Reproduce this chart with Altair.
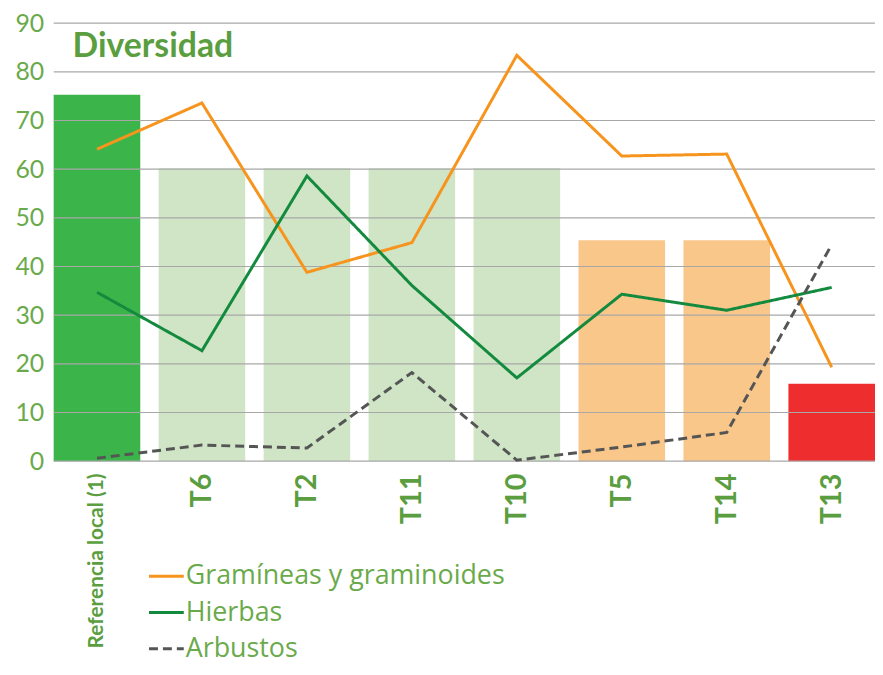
import altair as alt
import pandas as pd

categories = ["Referencia local (1)", "T6", "T2", "T11", "T10", "T5", "T14", "T13"]
bar_values = [75.3, 60.2, 60.2, 60.2, 60.2, 45.4, 45.4, 15.9]
bar_colors = ["#3bb54a", "#cfe5c6", "#cfe5c6", "#cfe5c6", "#cfe5c6", "#f9c78a", "#f9c78a", "#ee2e2e"]

series_names = ["Gramíneas y graminoides", "Hierbas", "Arbustos"]
graminoides = [64.1, 73.6, 38.8, 44.9, 83.4, 62.7, 63.1, 19.3]
hierbas = [34.7, 22.7, 58.6, 36.1, 17.1, 34.3, 31.0, 35.7]
arbustos = [0.6, 3.3, 2.7, 18.2, 0.2, 2.9, 5.9, 44.5]
series_colors = ["#f7941d", "#138a3e", "#555555"]
series_dash = [[1, 0], [1, 0], [9, 5]]

y_ticks = [0, 10, 20, 30, 40, 50, 60, 70, 80, 90]

label_green = "#6aaa4b"
dark_label = "#5a9e40"

bars_df = pd.DataFrame({"cat": categories, "value": bar_values})
lines_df = pd.DataFrame(
    [{"cat": c, "serie": s, "value": v}
     for s, vals in zip(series_names, [graminoides, hierbas, arbustos])
     for c, v in zip(categories, vals)]
)
grid_df = pd.DataFrame({"v": y_ticks})

x_enc = alt.X(
    "cat:N",
    sort=categories,
    scale=alt.Scale(paddingInner=0.175, paddingOuter=0),
    axis=alt.Axis(
        title=None,
        labelAngle=-90,
        labelAlign="right",
        labelBaseline="middle",
        labelColor=dark_label,
        labelFont="Lato",
        labelFontWeight="bold",
        labelFontSize={"condition": {"test": "datum.value == 'Referencia local (1)'", "value": 21}, "value": 29},
        labelLimit=300,
        labelPadding=12,
        ticks=False,
        domain=False,
        grid=False,
    ),
)
y_scale = alt.Scale(domain=[0, 90], nice=False)

bars = alt.Chart(bars_df).mark_bar().encode(
    x=x_enc,
    y=alt.Y(
        "value:Q",
        scale=y_scale,
        axis=alt.Axis(
            title=None,
            values=y_ticks,
            labelColor=label_green,
            labelFont="Lato",
            labelFontSize=25,
            labelPadding=10,
            ticks=False,
            domain=False,
            grid=False,
        ),
    ),
    color=alt.Color("cat:N", sort=categories,
                    scale=alt.Scale(domain=categories, range=bar_colors), legend=None),
)

grid = alt.Chart(grid_df).mark_rule(color="#a8a8a8", strokeWidth=1.2).encode(
    y=alt.Y("v:Q", scale=y_scale),
    x=alt.value(0),
    x2=alt.value(829),
)

lines = alt.Chart(lines_df).mark_line(strokeWidth=3).encode(
    x=alt.X("cat:N", sort=categories),
    y=alt.Y("value:Q", scale=y_scale),
    color=alt.Color(
        "serie:N",
        sort=series_names,
        scale=alt.Scale(domain=series_names, range=series_colors),
        legend=None,
    ),
    strokeDash=alt.StrokeDash(
        "serie:N",
        sort=series_names,
        scale=alt.Scale(domain=series_names, range=series_dash),
        legend=None,
    ),
)

# manual legend (symbol + label per series)
legend_layers = []
for i, (name, col, dash) in enumerate(zip(series_names, series_colors, series_dash)):
    yy = 557 + 36.5 * i
    df = pd.DataFrame({"serie": [name]})
    legend_layers.append(
        alt.Chart(df).mark_rule(color=col, strokeWidth=3, strokeDash=dash).encode(
            x=alt.value(96), x2=alt.value(131), y=alt.value(yy)
        )
    )
    legend_layers.append(
        alt.Chart(df).mark_text(
            align="left", baseline="middle", font="Open Sans", fontSize=27,
            color=label_green,
        ).encode(x=alt.value(133), y=alt.value(yy), text="serie:N")
    )

title = alt.Chart(pd.DataFrame({"t": ["Diversidad"]})).mark_text(
    align="left", baseline="alphabetic", font="Lato", fontWeight="bold",
    fontSize=34, color=dark_label,
).encode(x=alt.value(19), y=alt.value(34), text="t:N")

chart = alt.layer(bars, grid, lines, title, *legend_layers).resolve_scale(
    color="independent"
).properties(
    width=827,
    height=441,
    autosize=alt.AutoSizeParams(type="none"),
    padding={"left": 46, "top": 13, "right": 0, "bottom": 205},
).configure_view(stroke=None)

chart.save("out.html", embed_options={"renderer": "svg", "actions": False})
